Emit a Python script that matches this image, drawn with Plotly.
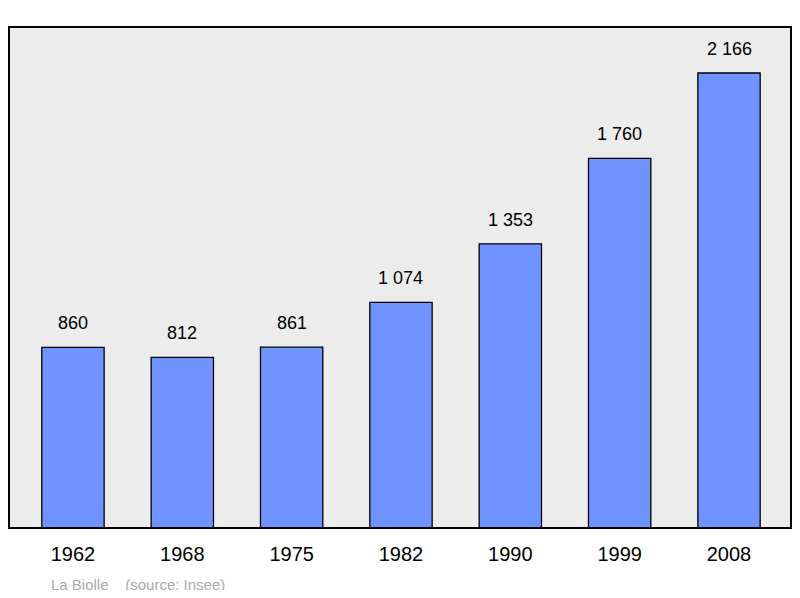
import plotly.graph_objects as go

years = ["1962", "1968", "1975", "1982", "1990", "1999", "2008"]
population = [860, 812, 861, 1074, 1353, 1760, 2166]
labels = ["860", "812", "861", "1 074", "1 353", "1 760", "2 166"]

xpos = list(range(len(years)))
font = "Liberation Sans, Arial"

fig = go.Figure(go.Bar(
    x=xpos, y=population, width=0.57,
    marker=dict(color="#7094ff", line=dict(color="black", width=1.3)),
))

for x, y, t in zip(xpos, population, labels):
    fig.add_annotation(x=x, y=y, text=t, showarrow=False, yanchor="bottom", yshift=12,
                       font=dict(family=font, size=18, color="black"))

fig.update_xaxes(range=[-0.585, 6.567], tickvals=xpos, ticktext=years,
                 showgrid=False, zeroline=False, ticks="", ticklabelstandoff=12,
                 tickfont=dict(family=font, size=20, color="black"))
fig.update_yaxes(range=[0, 2385], showgrid=False, zeroline=False, showticklabels=False)

fig.add_shape(type="rect", xref="paper", yref="paper", x0=0, x1=1, y0=0, y1=1,
              line=dict(color="black", width=2))
fig.add_annotation(text="La Biolle    (source: Insee)", xref="paper", yref="paper",
                   x=0.051, y=-0.112, xanchor="left", yanchor="middle", showarrow=False,
                   font=dict(family=font, size=15, color="#aaaaaa"))

fig.update_layout(
    width=784, height=582,
    plot_bgcolor="#ececec", paper_bgcolor="white",
    margin=dict(l=1, r=1, t=19, b=62),
    showlegend=False,
)

fig.write_html("out.html")
